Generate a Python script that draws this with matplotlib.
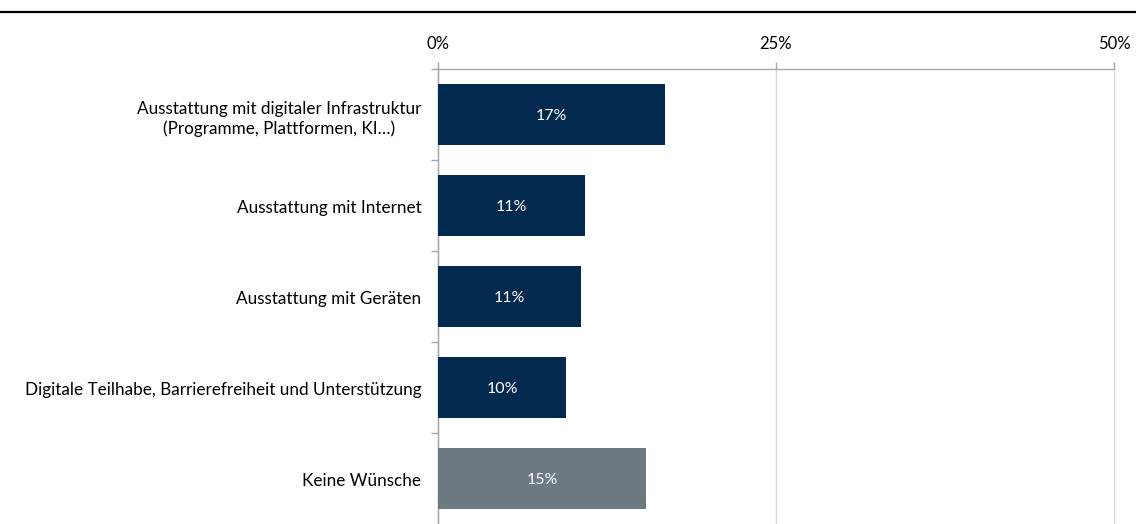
import matplotlib.pyplot as plt
from matplotlib.lines import Line2D
import numpy as np

# Data
categories = [
    'Ausstattung mit digitaler Infrastruktur\n(Programme, Plattformen, KI…)',
    'Ausstattung mit Internet',
    'Ausstattung mit Geräten',
    'Digitale Teilhabe, Barrierefreiheit und Unterstützung',
    'Keine Wünsche',
]
values = [16.8, 10.9, 10.6, 9.5, 15.4]
value_labels = ['17%', '11%', '11%', '10%', '15%']
bar_colors = ['#03294F', '#03294F', '#03294F', '#03294F', '#6D7A82']
x_ticks = [0, 25, 50]
x_tick_labels = ['0%', '25%', '50%']

plt.rcParams['font.family'] = ['Lato', 'DejaVu Sans']

fig = plt.figure(figsize=(11.36, 5.24), dpi=100)
ax = fig.add_axes([438 / 1136, 0.0, (1114 - 438) / 1136, 1 - 69 / 524])

y = np.arange(len(categories))
ax.barh(y, values, height=0.67, color=bar_colors, zorder=3)
for yi, v, lab in zip(y, values, value_labels):
    ax.text(v / 2, yi + 0.02, lab, ha='center', va='center', color='white',
            fontsize=11.5, zorder=4)

ax.set_xlim(0, 50)
ax.set_ylim(len(categories) - 0.5, -0.5)

ax.xaxis.tick_top()
ax.set_xticks(x_ticks)
ax.set_xticklabels(x_tick_labels, fontsize=12)
ax.tick_params(axis='x', length=5, width=1, color='#A6A6A6', pad=7)
ax.grid(axis='x', color='#D9D9D9', linewidth=1, zorder=0)
for gl in ax.get_xgridlines():
    gl.set_clip_on(False)

# category labels at centers, tick marks at boundaries
ax.set_yticks(y + 0.015)
ax.set_yticklabels(categories, fontsize=12.3, ha='right', multialignment='center',
                   linespacing=1.25)
ax.tick_params(axis='y', which='major', length=0, pad=12)
ax.set_yticks(np.arange(len(categories)) - 0.5, minor=True)
ax.tick_params(axis='y', which='minor', length=5, width=1, color='#A6A6A6')

for side in ['right', 'bottom']:
    ax.spines[side].set_visible(False)
for side in ['top', 'left']:
    ax.spines[side].set_color('#A6A6A6')
    ax.spines[side].set_linewidth(1)

fig.add_artist(Line2D([0, 1], [1 - 12 / 524, 1 - 12 / 524], color='black', linewidth=1.6,
                      transform=fig.transFigure))

fig.savefig('out.png', dpi=100)
